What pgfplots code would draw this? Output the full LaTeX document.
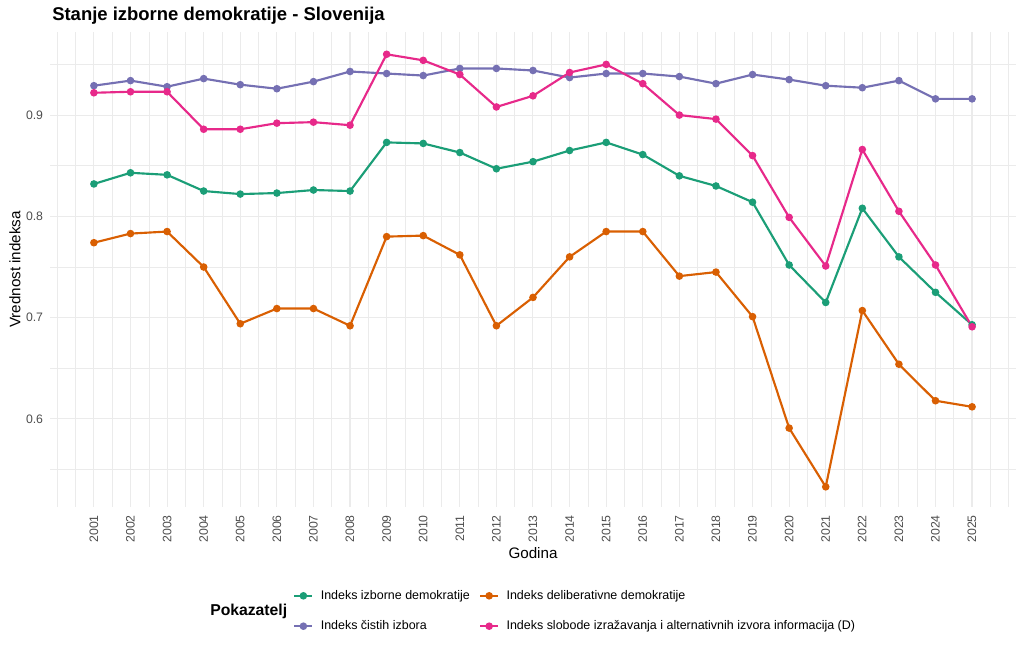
\documentclass[border=0pt]{standalone}
\usepackage{pgfplots}
\usepackage{pgfplotstable}
\pgfplotsset{compat=1.18}
\usepackage{fontspec}
\setmainfont{Liberation Sans}
\definecolor{cgreen}{HTML}{1B9E77}
\definecolor{corange}{HTML}{D95F02}
\definecolor{cpurple}{HTML}{7570B3}
\definecolor{cpink}{HTML}{E7298A}
\definecolor{gridc}{HTML}{EBEBEB}
\definecolor{tickc}{HTML}{4D4D4D}
\pgfplotstableread{
year g o p m
2001 0.832 0.774 0.929 0.922
2002 0.843 0.783 0.934 0.923
2003 0.841 0.785 0.928 0.923
2004 0.825 0.750 0.936 0.886
2005 0.822 0.694 0.930 0.886
2006 0.823 0.709 0.926 0.892
2007 0.826 0.709 0.933 0.893
2008 0.825 0.692 0.943 0.890
2009 0.873 0.780 0.941 0.960
2010 0.872 0.781 0.939 0.954
2011 0.863 0.762 0.946 0.940
2012 0.847 0.692 0.946 0.908
2013 0.854 0.720 0.944 0.919
2014 0.865 0.760 0.937 0.942
2015 0.873 0.785 0.941 0.950
2016 0.861 0.785 0.941 0.931
2017 0.840 0.741 0.938 0.900
2018 0.830 0.745 0.931 0.896
2019 0.814 0.701 0.940 0.860
2020 0.752 0.591 0.935 0.799
2021 0.715 0.533 0.929 0.751
2022 0.808 0.707 0.927 0.866
2023 0.760 0.654 0.934 0.805
2024 0.725 0.618 0.916 0.752
2025 0.693 0.612 0.916 0.691
}\datatable
\begin{document}
\begin{tikzpicture}[x=1pt,y=1pt]
\path[use as bounding box] (0,0) rectangle (768,489);
\begin{axis}[
  at={(37.5pt,108.75pt)}, anchor=south west,
  scale only axis, width=724.5pt, height=356.25pt,
  xmin=1999.8, xmax=2026.2, ymin=0.5131, ymax=0.982,
  xtick={2000,...,2026},
  xticklabels={{},2001,2002,2003,2004,2005,2006,2007,2008,2009,2010,2011,2012,2013,2014,2015,2016,2017,2018,2019,2020,2021,2022,2023,2024,2025,{}},
  minor xtick={2000.5,2001.5,...,2025.5},
  ytick={0.6,0.7,0.8,0.9},
  yticklabels={0.6,0.7,0.8,0.9},
  minor ytick={0.55,0.65,0.75,0.85,0.95},
  grid=both,
  major grid style={color=gridc, line width=0.8pt},
  minor grid style={color=gridc, line width=0.4pt},
  axis line style={draw=none},
  major tick length=0pt, minor tick length=0pt,
  tick style={draw=none},
  /pgf/number format/assume math mode=true,
  xticklabel style={font=\fontsize{9.2}{11}\selectfont, text=tickc, inner sep=0pt, yshift=-6pt, rotate=90, anchor=east},
  yticklabel style={font=\fontsize{9.2}{11}\selectfont, text=tickc, inner sep=0pt, xshift=-5pt, anchor=east},
  xlabel={Godina},
  ylabel={Vrednost indeksa},
  xlabel style={font=\fontsize{11.4}{13}\selectfont, at={(axis description cs:0.5,-0.0968)}, anchor=center},
  ylabel style={font=\fontsize{11.4}{13}\selectfont, at={(axis description cs:-0.0362,0.5)}, anchor=center},
  legend columns=2,
  legend cell align=left,
  legend image code/.code={\draw[mark repeat=2,mark phase=2] plot coordinates {(0pt,0pt)(6.75pt,0pt)(13.5pt,0pt)};},
  legend style={at={(axis description cs:0.2516,-0.219)}, anchor=west, draw=none, fill=none,
     inner sep=0pt, row sep=10.5pt,
     font=\fontsize{9.35}{11}\selectfont,
     /tikz/every odd column/.append style={column sep=3.5pt},
     /tikz/every even column/.append style={column sep=5pt}},
  every axis plot/.append style={line width=1.6pt, mark=*, mark size=2pt, mark options={solid}},
]
\addplot[color=cgreen] table[x=year,y=g]{\datatable};
\addlegendentry{Indeks izborne demokratije}
\addplot[color=corange] table[x=year,y=o]{\datatable};
\addlegendentry{Indeks deliberativne demokratije}
\addplot[color=cpurple] table[x=year,y=p]{\datatable};
\addlegendentry{Indeks čistih izbora}
\addplot[color=cpink] table[x=year,y=m]{\datatable};
\addlegendentry{Indeks slobode izražavanja i alternativnih izvora informacija (D)}
\end{axis}
\node[anchor=west, font=\bfseries\fontsize{13.85}{16}\selectfont, inner sep=0pt] at (39pt,477.5pt) {Stanje izborne demokratije - Slovenija};
\node[anchor=west, font=\bfseries\fontsize{11.8}{14}\selectfont, inner sep=0pt] at (157.5pt,30.75pt) {Pokazatelj};
\end{tikzpicture}
\end{document}
